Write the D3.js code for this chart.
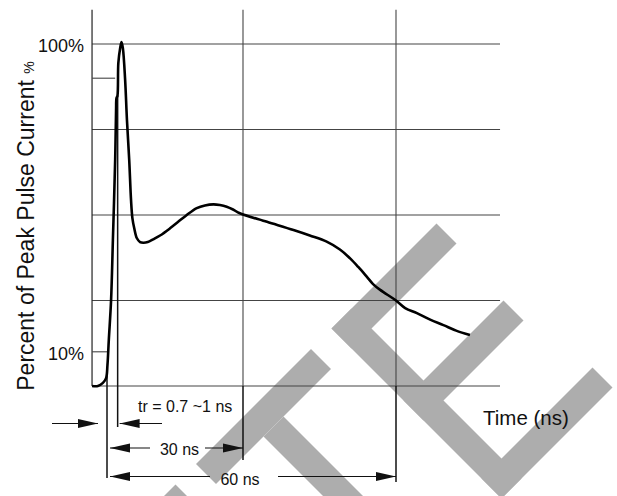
<!DOCTYPE html>
<html>
<head>
<meta charset="utf-8">
<script src="https://cdn.jsdelivr.net/npm/d3@7"></script>
<style>
  body { margin: 0; background: #fff; }
  text { font-family: "Liberation Sans", Arial, sans-serif; fill: #111; }
</style>
</head>
<body>
<div id="chart"></div>
<script>

// Pulse waveform: time (ns) and percent of peak current
var pulseTime = [-3.3, -2.0, -0.9, -0.2, 0.1, 0.4, 0.9, 1.3, 1.8, 2.0, 2.1, 2.3, 2.5, 2.9, 3.2,
  3.5, 4.0, 4.4, 4.9, 5.3, 5.6, 6.0, 6.6, 7.3, 8.0, 9.0, 10.2, 11.7, 13.9, 15.7, 17.6, 19.8,
  21.6, 23.5, 24.9, 26.4, 27.8, 29.3, 34.7, 39.9, 43.1, 46.4, 49.0, 51.0, 52.6, 54.3, 55.5,
  56.9, 60.0, 61.8, 64.1, 66.7, 69.3, 71.8, 74.5];
var pulsePct = [0, 0, 0.9, 2.3, 6.1, 13.5, 25.1, 42.7, 66.1, 80.7, 84.2, 84.8, 94.4, 98.8, 100.6,
  98.8, 89.5, 77.8, 66.1, 54.4, 49.1, 46.2, 43.2, 42.1, 41.9, 42.1, 42.9, 44.0, 46.1, 48.0, 50.0, 52.0,
  52.8, 53.1, 52.9, 52.4, 51.6, 50.5, 48.0, 45.6, 44.0, 42.2, 39.9, 37.3, 34.8, 31.9, 29.8,
  28.1, 25.0, 22.8, 21.3, 19.4, 17.8, 16.2, 14.9];

// Grid and ticks
var gridPct = [0, 25, 50, 75, 100];
var gridTime = [30, 60];
var shortTickPct = [90, 10];
var shortTickTime = [1.8, 0];
var tickLabels = ["100%", "10%"];
var tickLabelPct = [100, 10];

// Time markers
var riseTime = [0, 2.35];
var riseLabel = "tr = 0.7 ~1 ns";
var spanTime = [30, 60];
var spanLabels = ["30 ns", "60 ns"];

var svgWidth = 617;
var svgHeight = 496;

var svg = d3.select("#chart")
  .append("svg")
  .attr("width", svgWidth)
  .attr("height", svgHeight);

svg.append("rect")
  .attr("width", svgWidth)
  .attr("height", svgHeight)
  .attr("fill", "#fff");

// Scales (the drawing is not uniform in time, so use a piecewise scale)
var xScale = d3.scaleLinear()
  .domain([0, 30, 60])
  .range([107, 243, 396]);

var yScale = d3.scaleLinear()
  .domain([0, 100])
  .range([386, 44]);

var tMin = -3.3, tMax = 80.4, pTop = 110;

// Watermark, strokes given in a 45 degree frame (u = x - y, v = x + y)
var markStrokes = [
  [-519, -309, 660, 700],
  [-268, -38, 660, 700],
  [-173, -133, 700, 1000],
  [3, 43, 660, 1000],
  [3, 213, 660, 700],
  [3, 203, 804, 844],
  [3, 225, 960, 1000]
];
function uv(u, v) { return [(u + v) / 2, (v - u) / 2]; }
svg.append("g")
  .selectAll("polygon")
  .data(markStrokes)
  .enter()
  .append("polygon")
  .attr("points", d => [uv(d[0], d[2]), uv(d[1], d[2]), uv(d[1], d[3]), uv(d[0], d[3])]
    .map(p => p.join(",")).join(" "))
  .attr("fill", "#adadad");

var chartGroup = svg.append("g");

// Horizontal grid
chartGroup.selectAll(".hgrid")
  .data(gridPct)
  .enter()
  .append("line")
  .attr("x1", xScale(tMin))
  .attr("x2", xScale(tMax))
  .attr("y1", d => yScale(d))
  .attr("y2", d => yScale(d))
  .attr("stroke", "#444")
  .attr("stroke-width", 1.1);

// Vertical grid
chartGroup.selectAll(".vgrid")
  .data(gridTime)
  .enter()
  .append("line")
  .attr("x1", d => xScale(d))
  .attr("x2", d => xScale(d))
  .attr("y1", yScale(pTop))
  .attr("y2", yScale(0))
  .attr("stroke", "#444")
  .attr("stroke-width", 1.1);

// Y axis line
chartGroup.append("line")
  .attr("x1", xScale(tMin))
  .attr("x2", xScale(tMin))
  .attr("y1", yScale(pTop))
  .attr("y2", yScale(0))
  .attr("stroke", "#222")
  .attr("stroke-width", 1.2);

// Short ticks at 90% and 10%
chartGroup.selectAll(".stick")
  .data(shortTickPct)
  .enter()
  .append("line")
  .attr("x1", xScale(tMin))
  .attr("x2", (d, i) => xScale(shortTickTime[i]))
  .attr("y1", d => yScale(d))
  .attr("y2", d => yScale(d))
  .attr("stroke", "#444")
  .attr("stroke-width", 1.1);

// Tick labels
chartGroup.selectAll(".tlabel")
  .data(tickLabels)
  .enter()
  .append("text")
  .attr("x", 84)
  .attr("y", (d, i) => yScale(tickLabelPct[i]) + 2)
  .attr("dy", "0.35em")
  .attr("text-anchor", "end")
  .attr("font-size", 18)
  .text(d => d);

// Marker and dimension lines below the grid
var dimLines = [
  { t: riseTime[0], p: 3, y2: 478 },
  { t: riseTime[1], p: 85, y2: 427 },
  { t: spanTime[0], p: 0, y2: 460 },
  { t: spanTime[1], p: 0, y2: 482 }
];
chartGroup.selectAll(".dim")
  .data(dimLines)
  .enter()
  .append("line")
  .attr("x1", d => xScale(d.t))
  .attr("x2", d => xScale(d.t))
  .attr("y1", d => yScale(d.p))
  .attr("y2", d => d.y2)
  .attr("stroke", "#111")
  .attr("stroke-width", 1.5);

// Pulse curve
var line = d3.line()
  .x(d => xScale(d[0]))
  .y(d => yScale(d[1]))
  .curve(d3.curveCatmullRom.alpha(0.5));

chartGroup.append("path")
  .datum(d3.zip(pulseTime, pulsePct))
  .attr("d", line)
  .attr("fill", "none")
  .attr("stroke", "#000")
  .attr("stroke-width", 2.6)
  .attr("stroke-linejoin", "round");

// Arrow helper: tip at (x, y), dir +1 points right, -1 points left
function arrow(x1, x2, y, dir) {
  var tip = dir > 0 ? x2 : x1;
  chartGroup.append("line")
    .attr("x1", x1).attr("x2", x2)
    .attr("y1", y).attr("y2", y)
    .attr("stroke", "#111")
    .attr("stroke-width", 1.2);
  chartGroup.append("polygon")
    .attr("points", [[tip, y], [tip - dir * 20, y - 4.5], [tip - dir * 20, y + 4.5]]
      .map(p => p.join(",")).join(" "))
    .attr("fill", "#111");
}

// Rise time arrows
var riseY = 423.5;
arrow(52, xScale(riseTime[0]) - 9, riseY, 1);
arrow(xScale(riseTime[1]) + 2, 162, riseY, -1);
chartGroup.append("text")
  .attr("x", 138)
  .attr("y", 411.5)
  .attr("font-size", 16)
  .text(riseLabel);

// 30 ns span
var span30Y = 448;
arrow(xScale(0) + 3, 150, span30Y, -1);
arrow(205, xScale(spanTime[0]), span30Y, 1);
chartGroup.append("text")
  .attr("x", 179.5)
  .attr("y", 455)
  .attr("text-anchor", "middle")
  .attr("font-size", 16)
  .text(spanLabels[0]);

// 60 ns span
var span60Y = 476.5;
arrow(xScale(0) + 3, 210, span60Y, -1);
arrow(278, xScale(spanTime[1]), span60Y, 1);
chartGroup.append("text")
  .attr("x", 240)
  .attr("y", 485)
  .attr("text-anchor", "middle")
  .attr("font-size", 16)
  .text(spanLabels[1]);

// Axis titles
chartGroup.append("text")
  .attr("x", 483)
  .attr("y", 425)
  .attr("font-size", 20.5)
  .text("Time (ns)");

var yTitle = chartGroup.append("text")
  .attr("transform", "translate(34, 226) rotate(-90)")
  .attr("text-anchor", "middle")
  .attr("font-size", 23);
yTitle.append("tspan").text("Percent of Peak Pulse Current ");
yTitle.append("tspan").attr("font-size", 14).text("%");

</script>
</body>
</html>
